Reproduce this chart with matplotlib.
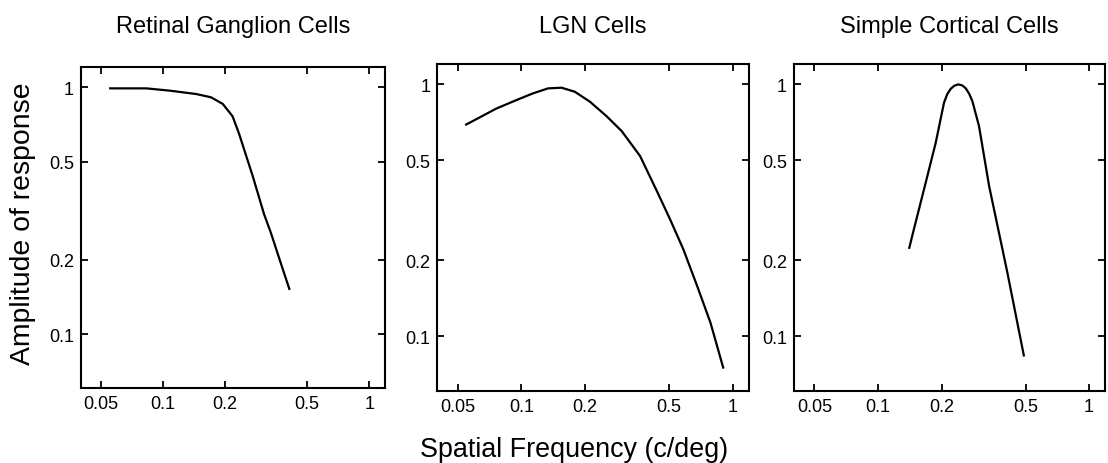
import matplotlib
matplotlib.use("Agg")
import matplotlib.pyplot as plt

plt.rcParams['font.family'] = ['Liberation Sans', 'DejaVu Sans']

# ---- data ----
titles = ["Retinal Ganglion Cells", "LGN Cells", "Simple Cortical Cells"]

retina_freq = [0.0549, 0.0832, 0.108, 0.145, 0.171, 0.195, 0.2175, 0.234, 0.272, 0.309, 0.333, 0.365, 0.411]
retina_amp = [0.99, 0.99, 0.969, 0.939, 0.911, 0.856, 0.763, 0.647, 0.438, 0.306, 0.258, 0.204, 0.151]

lgn_freq = [0.0542, 0.076, 0.0947, 0.1135, 0.1337, 0.155, 0.179, 0.211, 0.253, 0.2987, 0.365, 0.438, 0.506, 0.585, 0.68, 0.786, 0.906]
lgn_amp = [0.689, 0.801, 0.866, 0.921, 0.964, 0.97, 0.935, 0.854, 0.748, 0.652, 0.519, 0.377, 0.291, 0.221, 0.158, 0.113, 0.0742]

cortex_freq = [0.1403, 0.148, 0.1683, 0.1877, 0.2055, 0.213, 0.221, 0.230, 0.2403, 0.251, 0.2604, 0.27, 0.28, 0.301, 0.336, 0.41, 0.492]
cortex_amp = [0.222, 0.266, 0.407, 0.586, 0.846, 0.915, 0.960, 0.988, 1.0, 0.99, 0.965, 0.92, 0.858, 0.683, 0.395, 0.179, 0.0829]

x_ticks = [0.05, 0.1, 0.2, 0.5, 1]
x_tick_labels = ["0.05", "0.1", "0.2", "0.5", "1"]
y_ticks = [0.1, 0.2, 0.5, 1]
y_tick_labels = ["0.1", "0.2", "0.5", "1"]

series = [(retina_freq, retina_amp), (lgn_freq, lgn_amp), (cortex_freq, cortex_amp)]

W, H = 1108, 464
fig = plt.figure(figsize=(W / 100, H / 100), dpi=100)

# axes boxes in pixels: left, top, right, bottom
boxes = [(80.7, 68.3, 385.0, 389.3),
         (437.3, 65.0, 748.5, 392.3),
         (794.0, 65.0, 1105.0, 392.3)]

for (l, t, r, b), title, (fx, ay) in zip(boxes, titles, series):
    ax = fig.add_axes([l / W, 1 - b / H, (r - l) / W, (b - t) / H])
    ax.set_xscale('log')
    ax.set_yscale('log')
    ax.plot(fx, ay, color='black', lw=1.6, solid_joinstyle='round',
            solid_capstyle='butt')
    ax.set_xlim(0.04, 1.19)
    ax.set_ylim(0.0603, 1.205)
    ax.set_xticks(x_ticks, x_tick_labels)
    ax.set_yticks(y_ticks, y_tick_labels)
    ax.minorticks_off()
    ax.tick_params(which='major', direction='in', length=5, width=1.3,
                   top=True, right=True, labelsize=13, pad=5, color='black')
    for sp in ax.spines.values():
        sp.set_linewidth(1.5)
        sp.set_color('black')
    cx = (l + r) / 2
    fig.text(cx / W, 1 - 33 / H, title, ha='center', va='baseline', fontsize=17)

fig.text(23 / W, 1 - 224 / H, "Amplitude of response", rotation=90,
         ha='center', va='center', fontsize=20.4)
fig.text(574 / W, 1 - 457 / H, "Spatial Frequency (c/deg)", ha='center',
         va='baseline', fontsize=19.4)

fig.savefig("out.png", dpi=100)
